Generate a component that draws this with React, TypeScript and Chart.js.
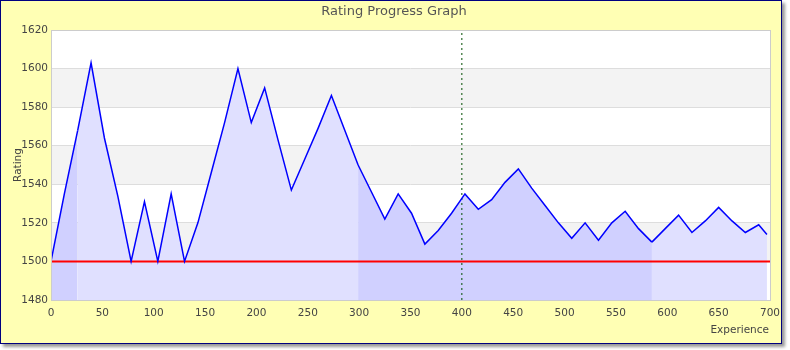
import React, { useEffect, useRef } from "react";
import { Chart, registerables } from "chart.js";

Chart.register(...registerables);

// ---- data ----
const experience = [
  0, 13, 26, 39, 52, 65, 78, 91, 104, 117, 130, 143, 156, 169, 182, 195, 208, 221,
  234, 247, 260, 273, 286, 299, 312, 325, 338, 351, 364, 377, 390, 403, 416, 429,
  442, 455, 468, 481, 494, 507, 520, 533, 546, 559, 572, 585, 598, 611, 624, 637,
  650, 663, 676, 689, 697,
];
const rating = [
  1500, 1535, 1568, 1603, 1564, 1534, 1500, 1531, 1500, 1535, 1500, 1520, 1546, 1572,
  1600, 1572, 1590, 1563, 1537, 1553, 1569, 1586, 1568, 1550, 1536, 1522, 1535, 1525,
  1509, 1516, 1525, 1535, 1527, 1532, 1541, 1548, 1538, 1529, 1520, 1512, 1520, 1511,
  1520, 1526, 1517, 1510, 1517, 1524, 1515, 1521, 1528, 1521, 1515, 1519, 1514,
];
// experience values where a new session (fill band) begins
const sessionStarts = [0, 26, 299, 585];
const startRating = 1500;
const markerExperience = 400;
const xRange = [0, 700];
const xStep = 50;
const yRange = [1480, 1620];
const yStep = 20;

const FONT = "'DejaVu Sans', sans-serif";
const TICK_COLOR = "#444444";

function sessionColor(x: number) {
  let idx = 0;
  for (let i = 0; i < sessionStarts.length; i++) if (x >= sessionStarts[i]) idx = i;
  return idx % 2 === 0 ? "rgb(208,208,255)" : "rgb(224,224,255)";
}

const decor = {
  id: "decor",
  beforeDraw(chart: any) {
    const { ctx, chartArea, scales } = chart;
    const { left, top, right, bottom } = chartArea;
    const y = scales.y;
    ctx.save();
    ctx.fillStyle = "#ffffff";
    ctx.fillRect(left, top, right - left, bottom - top);
    let k = 0;
    for (let v = yRange[0]; v < yRange[1]; v += yStep, k++) {
      if (k % 2 === 1) {
        const y1 = y.getPixelForValue(v + yStep);
        const y0 = y.getPixelForValue(v);
        ctx.fillStyle = "#f3f3f3";
        ctx.fillRect(left, y1, right - left, y0 - y1);
      }
    }
    ctx.restore();
  },
  afterDraw(chart: any) {
    const { ctx, chartArea } = chart;
    const { left, top, right, bottom } = chartArea;
    ctx.save();
    ctx.strokeStyle = "#cccccc";
    ctx.lineWidth = 1;
    ctx.strokeRect(Math.round(left) + 0.5, Math.round(top) + 0.5, Math.round(right - left), Math.round(bottom - top));
    // chart title
    ctx.fillStyle = "#555555";
    ctx.font = `13px ${FONT}`;
    ctx.textAlign = "center";
    ctx.textBaseline = "alphabetic";
    ctx.fillText("Rating Progress Graph", 393, 14);
    // axis titles
    ctx.fillStyle = TICK_COLOR;
    ctx.font = `10.5px ${FONT}`;
    ctx.textAlign = "right";
    ctx.fillText("Experience", 768, 332);
    ctx.translate(17, (top + bottom) / 2);
    ctx.rotate(-Math.PI / 2);
    ctx.textAlign = "center";
    ctx.textBaseline = "middle";
    ctx.fillText("Rating", 0, 0);
    ctx.restore();
  },
};

export default function App() {
  const ref = useRef<HTMLCanvasElement>(null);
  useEffect(() => {
    const canvas = ref.current!;
    const chart = new Chart(canvas, {
      type: "line",
      data: {
        datasets: [
          {
            label: "Rating",
            data: experience.map((x, i) => ({ x, y: rating[i] })),
            borderColor: "#0000ff",
            borderWidth: 1.5,
            pointRadius: 0,
            fill: "start",
            backgroundColor: "rgb(224,224,255)",
            tension: 0,
            order: 0,
            segment: {
              backgroundColor: (ctx: any) => sessionColor(experience[ctx.p0DataIndex]),
            },
          },
          {
            label: "Start",
            data: [
              { x: xRange[0], y: startRating },
              { x: xRange[1], y: startRating },
            ],
            borderColor: "#ff0000",
            borderWidth: 2,
            pointRadius: 0,
            fill: false,
            order: 1,
          },
          {
            label: "Marker",
            data: [
              { x: markerExperience, y: yRange[0] },
              { x: markerExperience, y: yRange[1] },
            ],
            borderColor: "#004d00",
            borderWidth: 1,
            borderDash: [2, 3],
            pointRadius: 0,
            fill: false,
            order: 2,
          },
        ],
      },
      options: {
        animation: false,
        responsive: false,
        devicePixelRatio: 1,
        layout: { padding: { top: 29, left: 0, right: 11, bottom: 0 } },
        plugins: {
          legend: { display: false },
          title: { display: false },
          tooltip: { enabled: false },
          filler: { drawTime: "beforeDatasetsDraw" },
        },
        scales: {
          x: {
            type: "linear",
            min: xRange[0],
            max: xRange[1],
            ticks: {
              stepSize: xStep,
              color: TICK_COLOR,
              font: { family: FONT, size: 10.5 },
              padding: 7,
              maxRotation: 0,
              autoSkip: false,
              callback: (v: any) => String(v),
            },
            grid: { display: false, drawTicks: false },
            border: { display: false },
            afterFit: (s: any) => {
              s.height = 43;
              s.paddingLeft = 0;
              s.paddingRight = 0;
            },
          },
          y: {
            type: "linear",
            min: yRange[0],
            max: yRange[1],
            ticks: {
              stepSize: yStep,
              color: TICK_COLOR,
              font: { family: FONT, size: 10.5 },
              padding: 3,
              callback: (v: any) => String(v),
            },
            grid: { color: "#dddddd", drawTicks: false },
            border: { display: false },
            afterFit: (s: any) => {
              s.width = 50;
              s.paddingTop = 0;
              s.paddingBottom = 0;
            },
          },
        },
      },
      plugins: [decor],
    } as any);
    return () => chart.destroy();
  }, []);
  return (
    <div
      style={{
        position: "absolute",
        left: 0,
        top: 0,
        width: 780,
        height: 342,
        border: "1px solid #000080",
        background: "#ffffb4",
        boxShadow: "3px 3px 3px #999999",
      }}
    >
      <canvas ref={ref} width={780} height={342} style={{ display: "block" }} />
    </div>
  );
}
